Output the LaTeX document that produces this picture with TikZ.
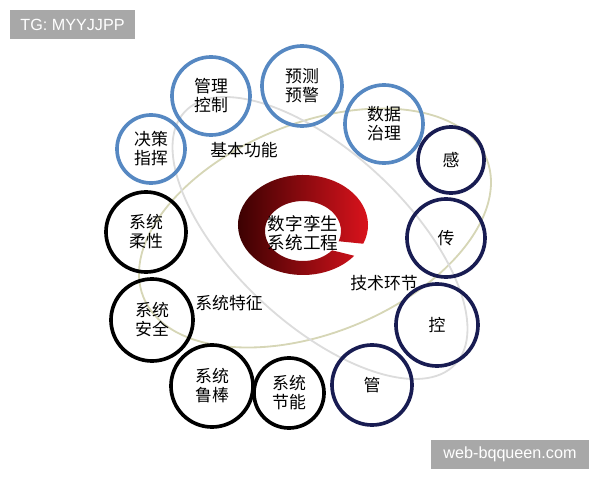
\documentclass[tikz,border=0pt]{standalone}
\usepackage{fontspec}
\newfontfamily\cjk{Noto Sans CJK SC}
\newfontfamily\wmfont{Liberation Sans}
\usetikzlibrary{positioning}
\definecolor{funcblue}{RGB}{86,136,194}
\definecolor{technavy}{RGB}{24,28,82}
\definecolor{orbitkhaki}{RGB}{214,214,182}
\definecolor{orbitgray}{RGB}{220,220,220}
\definecolor{ringdark}{RGB}{50,0,0}
\definecolor{ringmid}{RGB}{170,8,14}
\definecolor{ringred}{RGB}{228,20,30}
\definecolor{wmgray}{RGB}{168,168,168}

\begin{document}
\begin{tikzpicture}
  [x=0.025cm, y=-0.025cm,
   ball/.style={circle, line width=2.6pt, inner sep=0pt, align=center,
     font=\cjk\fontsize{12}{13.5}\selectfont},
   func/.style={ball, draw=funcblue},
   tech/.style={ball, draw=technavy},
   feat/.style={ball, draw=black},
   tag/.style={font=\cjk\fontsize{12}{14}\selectfont},
   wmbox/.style={fill=wmgray, text=white, inner sep=0pt, minimum height=0.725cm,
     font=\wmfont\fontsize{11.5}{13}\selectfont}]
  \useasboundingbox (0,0) rectangle (600,480);

  % orbits
  \draw [orbitkhaki, line width=1.3pt, rotate around={22:(315,228)}]
    (315,228) ellipse [x radius=185, y radius=105];
  \draw [orbitgray, line width=1.3pt, rotate around={-43:(320,238)}]
    (320,238) ellipse [x radius=185, y radius=86];

  % red ring
  \shade [left color=ringdark, middle color=ringmid, right color=ringred]
    ([shift={(303,225)}]22:65 and 50)
      arc [start angle=22, end angle=-322, x radius=65, y radius=50]
    -- ([shift={(303,231)}]-320:38 and 30)
      arc [start angle=-320, end angle=20, x radius=38, y radius=30] -- cycle;
  \node (core) at (303,233) [align=center, inner sep=0pt,
    font=\cjk\fontsize{12.5}{13.5}\selectfont] {数字孪生\\系统工程};

  % circles
  \foreach \n/\x/\y/\r/\t in {jc/151/149/34/{决策\\指挥}, gl/211/96/39/{管理\\控制},
      yc/302/86/40/{预测\\预警}, sj/384/124/39/{数据\\治理}}
    \node (\n) at (\x,\y) [func, minimum size=\r*0.05cm] {\t};
  \foreach \n/\x/\y/\r/\t in {gan/451/160/33/感, chuan/446/238/39/传,
      kong/437/325/41/控, guan/372/385/40/管}
    \node (\n) at (\x,\y) [tech, minimum size=\r*0.05cm] {\t};
  \foreach \n/\x/\y/\r/\t in {rx/146/232/40/{系统\\柔性}, aq/152/320/41/{系统\\安全},
      lb/212/386/41/{系统\\鲁棒}, jn/289/393/35/{系统\\节能}}
    \node (\n) at (\x,\y) [feat, minimum size=\r*0.05cm] {\t};

  % labels
  \node (basic) at (244,150) [tag] {基本功能};
  \node (trait) at (229,303) [tag] {系统特征};
  \node (link) at (384,283) [tag] {技术环节};

  % watermarks
  \node (tg) at (72.5,24.5) [wmbox, minimum width=3.125cm] {TG: MYYJJPP};
  \node (web) at (510,454.5) [wmbox, minimum width=3.95cm] {web-bqqueen.com};
\end{tikzpicture}
\end{document}
